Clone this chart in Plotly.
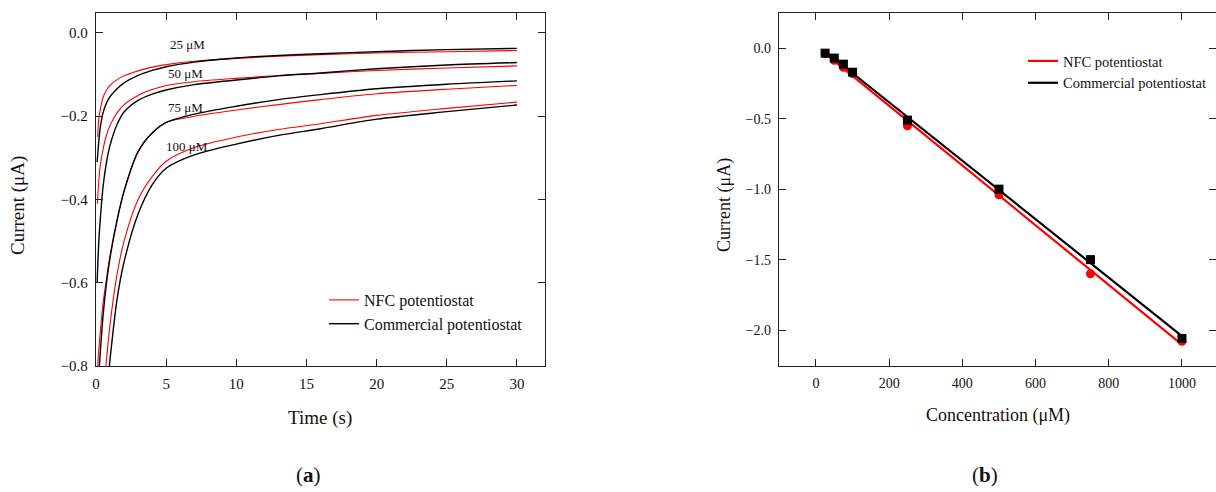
import numpy as np
import plotly.graph_objects as go

W, H = 1216, 492
SERIF = "Liberation Serif, Times New Roman, serif"

# ---------------- Panel (a): chronoamperometry ----------------
time_25_nfc = [0.12, 0.2, 0.3, 0.5, 0.75, 1, 1.5, 2, 3, 4, 5, 7, 10, 13, 16, 20, 25, 30]
cur_25_nfc = [-0.25, -0.205, -0.185, -0.155, -0.137, -0.126, -0.112, -0.103, -0.091, -0.082,
              -0.076, -0.068, -0.061, -0.056, -0.052, -0.048, -0.045, -0.042]
time_25_com = [0.08, 0.2, 0.3, 0.5, 0.75, 1, 1.5, 2, 3, 4, 5, 7, 10, 13, 16, 20, 25, 30]
cur_25_com = [-0.31, -0.26, -0.228, -0.192, -0.168, -0.153, -0.134, -0.120, -0.102, -0.090,
              -0.081, -0.070, -0.060, -0.054, -0.050, -0.045, -0.040, -0.037]

time_50_nfc = [0.1, 0.2, 0.3, 0.5, 0.75, 1, 1.5, 2, 3, 4, 5, 7, 10, 13, 16, 20, 25, 30]
cur_50_nfc = [-0.41, -0.355, -0.32, -0.28, -0.245, -0.222, -0.192, -0.172, -0.150, -0.136,
              -0.126, -0.117, -0.109, -0.102, -0.097, -0.090, -0.084, -0.079]
time_50_com = [0.08, 0.1, 0.2, 0.3, 0.5, 0.75, 1, 1.5, 2, 3, 4, 5, 7, 10, 13, 16, 20, 25, 30]
cur_50_com = [-0.60, -0.58, -0.50, -0.45, -0.37, -0.31, -0.27, -0.22, -0.19, -0.162, -0.147,
              -0.137, -0.124, -0.113, -0.103, -0.096, -0.086, -0.077, -0.071]

time_75_nfc = [0.12, 0.2, 0.3, 0.5, 0.75, 1, 1.5, 2, 3, 4, 5, 7, 10, 13, 16, 20, 25, 30]
cur_75_nfc = [-0.80, -0.76, -0.72, -0.65, -0.59, -0.535, -0.45, -0.38, -0.285, -0.240,
              -0.215, -0.200, -0.185, -0.172, -0.160, -0.146, -0.135, -0.126]
time_75_com = [0.24, 0.3, 0.5, 0.75, 1, 1.5, 2, 3, 4, 5, 7, 10, 13, 16, 20, 25, 30]
cur_75_com = [-0.80, -0.77, -0.68, -0.60, -0.54, -0.45, -0.38, -0.285, -0.240, -0.215,
              -0.195, -0.176, -0.160, -0.148, -0.134, -0.123, -0.115]

time_100_nfc = [0.71, 1, 1.5, 2, 3, 4, 5, 7, 10, 13, 16, 20, 25, 30]
cur_100_nfc = [-0.80, -0.70, -0.58, -0.50, -0.40, -0.345, -0.308, -0.275, -0.250, -0.232,
               -0.218, -0.198, -0.181, -0.166]
time_100_com = [0.95, 1.5, 2, 3, 4, 5, 7, 10, 13, 16, 20, 25, 30]
cur_100_com = [-0.80, -0.64, -0.55, -0.435, -0.365, -0.325, -0.293, -0.267, -0.246, -0.230,
               -0.207, -0.189, -0.173]

curve_labels = ["25 μM", "50 μM", "75 μM", "100 μM"]

xticks_a = [0, 5, 10, 15, 20, 25, 30]
yticks_a = [-0.8, -0.6, -0.4, -0.2, 0.0]
yticktext_a = ["\u22120.8", "\u22120.6", "\u22120.4", "\u22120.2", "0.0"]

# ---------------- Panel (b): calibration ----------------
conc_uM = [25, 50, 75, 100, 250, 500, 750, 1000]
cur_nfc = [-0.04, -0.085, -0.135, -0.18, -0.55, -1.04, -1.60, -2.08]
cur_com = [-0.035, -0.07, -0.113, -0.17, -0.51, -1.00, -1.50, -2.06]

xticks_b = [0, 200, 400, 600, 800, 1000]
yticks_b = [-2.0, -1.5, -1.0, -0.5, 0.0]
yticktext_b = ["\u22122.0", "\u22121.5", "\u22121.0", "\u22120.5", "0.0"]

NFC_NAME = "NFC potentiostat"
COM_NAME = "Commercial potentiostat"
RED = "#ff0000"
BLACK = "#000000"

fig = go.Figure()

nfc_curves = [(time_25_nfc, cur_25_nfc), (time_50_nfc, cur_50_nfc),
              (time_75_nfc, cur_75_nfc), (time_100_nfc, cur_100_nfc)]
com_curves = [(time_25_com, cur_25_com), (time_50_com, cur_50_com),
              (time_75_com, cur_75_com), (time_100_com, cur_100_com)]

for i, (t, c) in enumerate(nfc_curves):
    fig.add_trace(go.Scatter(x=t, y=c, mode="lines", name=NFC_NAME,
                             line=dict(color=RED, width=1.1, shape="spline", smoothing=0.8),
                             xaxis="x", yaxis="y", legend="legend",
                             showlegend=(i == 0), legendgroup="nfc_a", hoverinfo="skip"))
for i, (t, c) in enumerate(com_curves):
    fig.add_trace(go.Scatter(x=t, y=c, mode="lines", name=COM_NAME,
                             line=dict(color=BLACK, width=1.4, shape="spline", smoothing=0.8),
                             xaxis="x", yaxis="y", legend="legend",
                             showlegend=(i == 0), legendgroup="com_a", hoverinfo="skip"))

# linear fits for panel (b)
p_nfc = np.polyfit(conc_uM, cur_nfc, 1)
p_com = np.polyfit(conc_uM, cur_com, 1)
fit_x = [conc_uM[0], conc_uM[-1]]

fig.add_trace(go.Scatter(x=fit_x, y=np.polyval(p_nfc, fit_x).tolist(), mode="lines",
                         name=NFC_NAME, line=dict(color=RED, width=2.2),
                         xaxis="x2", yaxis="y2", legend="legend2", hoverinfo="skip"))
fig.add_trace(go.Scatter(x=fit_x, y=np.polyval(p_com, fit_x).tolist(), mode="lines",
                         name=COM_NAME, line=dict(color=BLACK, width=2.2),
                         xaxis="x2", yaxis="y2", legend="legend2", hoverinfo="skip"))
fig.add_trace(go.Scatter(x=conc_uM, y=cur_nfc, mode="markers", name=NFC_NAME,
                         marker=dict(symbol="circle", size=9, color=RED),
                         xaxis="x2", yaxis="y2", showlegend=False))
fig.add_trace(go.Scatter(x=conc_uM, y=cur_com, mode="markers", name=COM_NAME,
                         marker=dict(symbol="square", size=9, color=BLACK),
                         xaxis="x2", yaxis="y2", showlegend=False))

axis_common = dict(showline=True, linecolor="#222222", linewidth=1.4, mirror="ticks",
                   ticks="inside", ticklen=7, tickwidth=1.3, tickcolor="#222222",
                   showgrid=False, zeroline=False, tickmode="array",
                   ticklabelstandoff=4, automargin=False)

ya0, ya1 = 1 - 366 / H, 1 - 13 / H

fig.update_layout(
    template="none",
    width=W, height=H,
    margin=dict(l=0, r=0, t=0, b=0, pad=0),
    paper_bgcolor="white", plot_bgcolor="white",
    font=dict(family=SERIF, color="#111111"),
    xaxis=dict(domain=[96 / W, 545 / W], range=[0, 32], anchor="y",
               tickvals=xticks_a, ticktext=[str(v) for v in xticks_a],
               tickfont=dict(size=15), **axis_common),
    yaxis=dict(domain=[ya0, ya1], range=[-0.8, 0.048], anchor="x",
               tickvals=yticks_a, ticktext=yticktext_a,
               tickfont=dict(size=15), **axis_common),
    xaxis2=dict(domain=[779 / W, 1.0], range=[-101, 1093], anchor="y2",
                tickvals=xticks_b, ticktext=[str(v) for v in xticks_b],
                tickfont=dict(size=14), **axis_common),
    yaxis2=dict(domain=[ya0, ya1], range=[-2.255, 0.25], anchor="x2",
                tickvals=yticks_b, ticktext=yticktext_b,
                tickfont=dict(size=14), **axis_common),
    legend=dict(x=324 / W, y=1 - 283 / H, xanchor="left", yanchor="top",
                bgcolor="rgba(0,0,0,0)", borderwidth=0, itemwidth=30,
                font=dict(family=SERIF, size=16, color="#111111"), tracegroupgap=0),
    legend2=dict(x=1023 / W, y=1 - 45 / H, xanchor="left", yanchor="top",
                 bgcolor="rgba(0,0,0,0)", borderwidth=0, itemwidth=30,
                 font=dict(family=SERIF, size=14.5, color="#111111"), tracegroupgap=0),
    showlegend=True,
)

annotations = []
# curve labels (data coords)
label_pos = [(6.5, -0.028), (6.4, -0.098), (6.4, -0.18), (6.5, -0.273)]
for text, (lx, ly) in zip(curve_labels, label_pos):
    annotations.append(dict(x=lx, y=ly, xref="x", yref="y", text=text, showarrow=False,
                            xanchor="center", yanchor="middle",
                            font=dict(family=SERIF, size=13, color="#111111")))
# axis titles and panel letters
title_specs = [
    (320, 418, "Time (s)", 0, 19),
    (18, 206, "Current (μA)", -90, 19),
    (998, 415, "Concentration (μM)", 0, 18),
    (724, 205, "Current (μA)", -90, 18),
    (308, 475, "(<b>a</b>)", 0, 21),
    (985, 475, "(<b>b</b>)", 0, 21),
]
for px, py, text, ang, size in title_specs:
    annotations.append(dict(x=px / W, y=1 - py / H, xref="paper", yref="paper", text=text,
                            textangle=ang, showarrow=False, xanchor="center",
                            yanchor="middle", font=dict(family=SERIF, size=size,
                                                        color="#111111")))
fig.update_layout(annotations=annotations)

fig.write_html("out.html", config={"displayModeBar": False})

# remove the default page margin so the figure sits at the window origin
with open("out.html", "r", encoding="utf-8") as f:
    html = f.read()
html = html.replace("<body>", '<body style="margin:0;padding:0;overflow:hidden">', 1)
with open("out.html", "w", encoding="utf-8") as f:
    f.write(html)
